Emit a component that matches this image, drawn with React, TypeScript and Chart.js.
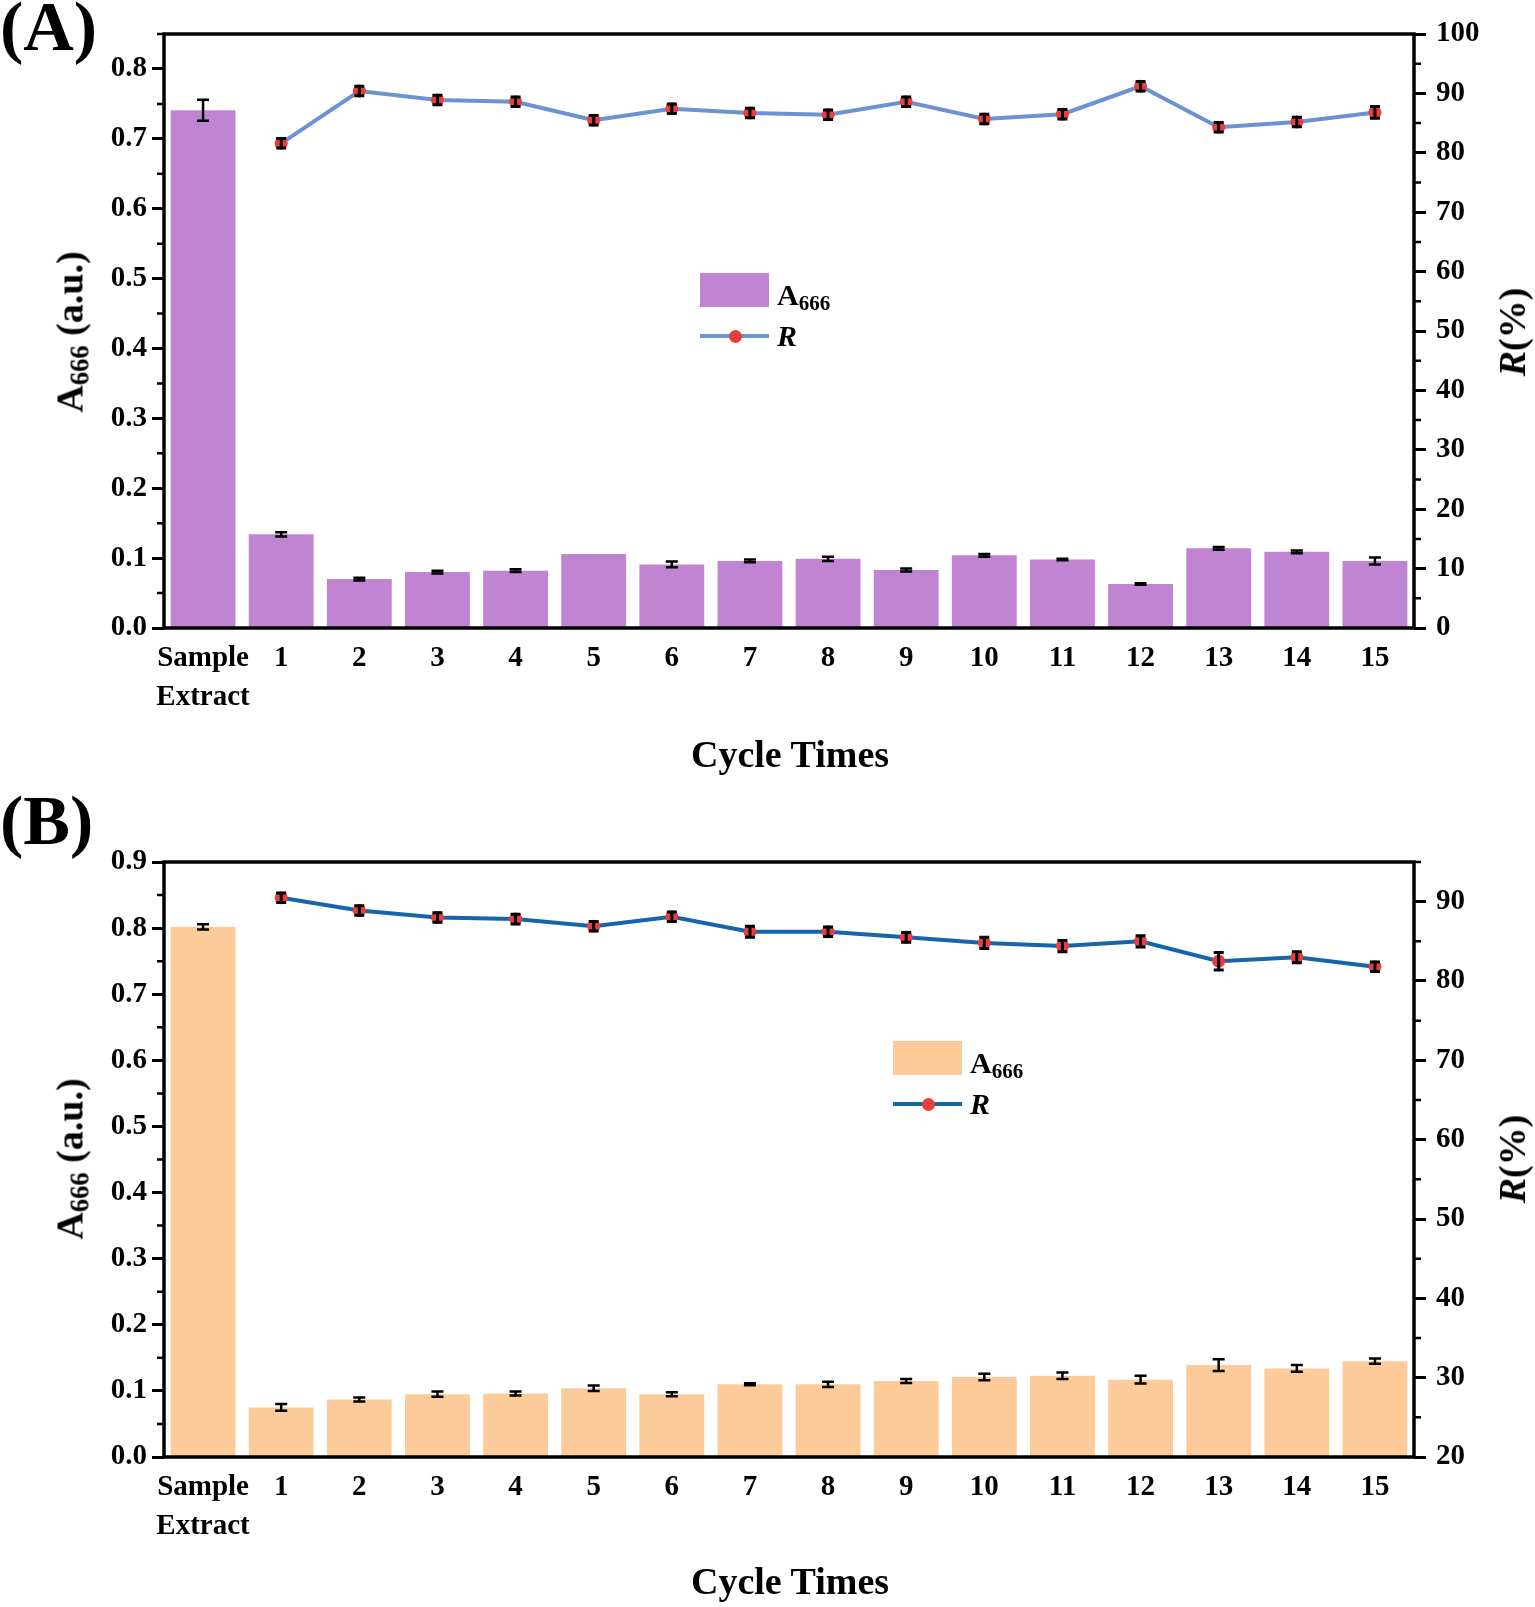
import { useEffect, useRef } from 'react';
import { Chart, registerables } from 'chart.js';

Chart.register(...registerables);

const FONT = '"Liberation Serif", "Times New Roman", serif';

const categories = [['Sample', 'Extract'], '1', '2', '3', '4', '5', '6', '7', '8', '9', '10', '11', '12', '13', '14', '15'];

// panel (A)
const absA = [0.741, 0.134, 0.07, 0.08, 0.082, 0.106, 0.091, 0.096, 0.099, 0.083, 0.104, 0.098, 0.063, 0.114, 0.109, 0.096];
const absErrA = [0.015, 0.003, 0.002, 0.002, 0.002, 0, 0.004, 0.002, 0.003, 0.002, 0.002, 0.001, 0.001, 0.002, 0.002, 0.005];
const recA = [null, 81.6, 90.4, 88.9, 88.6, 85.5, 87.4, 86.7, 86.4, 88.6, 85.7, 86.5, 91.2, 84.3, 85.2, 86.8];
const recErrA = [0, 0.8, 0.8, 0.8, 0.8, 0.8, 0.8, 0.8, 0.8, 0.8, 0.8, 0.8, 0.8, 0.8, 0.8, 1.0];
const leftTicksA = [0, 0.1, 0.2, 0.3, 0.4, 0.5, 0.6, 0.7, 0.8];
const rightTicksA = [0, 10, 20, 30, 40, 50, 60, 70, 80, 90, 100];

// panel (B)
const absB = [0.802, 0.075, 0.087, 0.095, 0.096, 0.104, 0.095, 0.11, 0.11, 0.115, 0.121, 0.123, 0.117, 0.139, 0.134, 0.145];
const absErrB = [0.004, 0.005, 0.003, 0.004, 0.003, 0.004, 0.003, 0.0015, 0.004, 0.003, 0.005, 0.005, 0.006, 0.009, 0.005, 0.004];
const recB = [null, 90.5, 88.9, 88.0, 87.8, 86.9, 88.1, 86.2, 86.2, 85.5, 84.8, 84.4, 85.0, 82.5, 83.0, 81.8];
const recErrB = [0, 0.6, 0.6, 0.6, 0.6, 0.6, 0.6, 0.7, 0.6, 0.6, 0.7, 0.7, 0.7, 1.1, 0.7, 0.6];
const leftTicksB = [0, 0.1, 0.2, 0.3, 0.4, 0.5, 0.6, 0.7, 0.8, 0.9];
const rightTicksB = [20, 30, 40, 50, 60, 70, 80, 90];

// error bars, frame and minor ticks
const decorPlugin = {
  id: 'decor',
  afterDatasetsDraw(chart: any) {
    const ctx = chart.ctx;
    chart.data.datasets.forEach((ds: any, i: number) => {
      if (!ds.errors) return;
      const meta = chart.getDatasetMeta(i);
      const scale = chart.scales[meta.yAxisID];
      ctx.save();
      ctx.strokeStyle = '#000';
      ctx.lineWidth = ds.errorWidth;
      meta.data.forEach((el: any, j: number) => {
        const v = ds.data[j];
        const e = ds.errors[j];
        if (v == null || !e) return;
        const yt = scale.getPixelForValue(v + e);
        const yb = scale.getPixelForValue(v - e);
        const hw = ds.capHalf;
        ctx.beginPath();
        ctx.moveTo(el.x, yt);
        ctx.lineTo(el.x, yb);
        ctx.moveTo(el.x - hw, yt);
        ctx.lineTo(el.x + hw, yt);
        ctx.moveTo(el.x - hw, yb);
        ctx.lineTo(el.x + hw, yb);
        ctx.stroke();
      });
      ctx.restore();
    });
  },
  afterDraw(chart: any) {
    const ctx = chart.ctx;
    const { left, right, top, bottom } = chart.chartArea;
    ctx.save();
    ctx.strokeStyle = '#000';
    ctx.lineWidth = 3.5;
    ctx.strokeRect(left, top, right - left, bottom - top);
    ctx.lineWidth = 2.5;
    ['y', 'y1'].forEach((id) => {
      const s = chart.scales[id];
      const vals = s.ticks.map((t: any) => t.value);
      const step = vals[1] - vals[0];
      ctx.beginPath();
      vals.forEach((v: number) => {
        const m = v + step / 2;
        if (m > s.max + 1e-9) return;
        const y = s.getPixelForValue(m);
        if (s.position === 'left') {
          ctx.moveTo(left, y);
          ctx.lineTo(left - 7, y);
        } else {
          ctx.moveTo(right, y);
          ctx.lineTo(right + 7, y);
        }
      });
      ctx.stroke();
    });
    ctx.restore();
  },
};

interface PanelProps {
  abs: number[];
  absErr: number[];
  rec: (number | null)[];
  recErr: number[];
  leftTicks: number[];
  rightTicks: number[];
  leftMax: number;
  rightMin: number;
  rightMax: number;
  barColor: string;
  lineColor: string;
  top: number;
  height: number;
  padTop: number;
  xAxisHeight: number;
}

const tickFont = { family: FONT, size: 29, weight: 'bold' as const };

function Panel(p: PanelProps) {
  const ref = useRef<HTMLCanvasElement>(null);

  useEffect(() => {
    if (!ref.current) return;
    const yGrid = {
      display: true,
      drawOnChartArea: false,
      drawTicks: true,
      tickLength: 12,
      tickWidth: 3,
      tickColor: '#000',
      color: '#000',
    };
    const chart = new Chart(ref.current, {
      data: {
        labels: categories,
        datasets: [
          {
            type: 'line',
            data: p.rec,
            errors: p.recErr,
            capHalf: 5,
            errorWidth: 3,
            yAxisID: 'y1',
            order: 1,
            borderColor: p.lineColor,
            borderWidth: 4,
            pointRadius: 6.5,
            pointHoverRadius: 6.5,
            pointBackgroundColor: '#EB3D3D',
            pointBorderWidth: 0,
            tension: 0,
          },
          {
            type: 'bar',
            data: p.abs,
            errors: p.absErr,
            capHalf: 6,
            errorWidth: 2.5,
            yAxisID: 'y',
            order: 2,
            backgroundColor: p.barColor,
            borderWidth: 0,
            barPercentage: 0.83,
            categoryPercentage: 1,
          },
        ],
      } as any,
      options: {
        responsive: false,
        animation: false,
        events: [],
        layout: { padding: { top: p.padTop, left: 0, right: 0, bottom: 0 } },
        plugins: { legend: { display: false }, tooltip: { enabled: false } },
        scales: {
          x: {
            type: 'category',
            offset: true,
            grid: { display: false },
            border: { display: false },
            ticks: {
              color: '#000',
              font: { ...tickFont, lineHeight: 1.34 },
              padding: 3,
              autoSkip: false,
              maxRotation: 0,
              minRotation: 0,
            },
            afterFit: (s: any) => {
              s.height = p.xAxisHeight;
            },
          },
          y: {
            position: 'left',
            min: 0,
            max: p.leftMax,
            grid: yGrid,
            border: { display: false },
            ticks: {
              color: '#000',
              font: tickFont,
              padding: 5,
              callback: (v: any) => Number(v).toFixed(1),
            },
            afterBuildTicks: (s: any) => {
              s.ticks = p.leftTicks.map((v) => ({ value: v }));
            },
            afterFit: (s: any) => {
              s.width = 164;
            },
          },
          y1: {
            position: 'right',
            min: p.rightMin,
            max: p.rightMax,
            grid: yGrid,
            border: { display: false },
            ticks: {
              color: '#000',
              font: tickFont,
              padding: 10,
              callback: (v: any) => String(v),
            },
            afterBuildTicks: (s: any) => {
              s.ticks = p.rightTicks.map((v) => ({ value: v }));
            },
            afterFit: (s: any) => {
              s.width = 121;
            },
          },
        },
      } as any,
      plugins: [decorPlugin],
    });
    return () => chart.destroy();
  }, []);

  return (
    <canvas
      ref={ref}
      width={1535}
      height={p.height}
      style={{ position: 'absolute', left: 0, top: p.top, display: 'block' }}
    />
  );
}

function Text({ x, y, size, children, rotate, center }: any) {
  return (
    <div
      style={{
        position: 'absolute',
        left: x,
        top: y,
        fontFamily: FONT,
        fontWeight: 'bold',
        fontSize: size,
        lineHeight: 1,
        whiteSpace: 'nowrap',
        color: '#000',
        transform: rotate
          ? 'translate(-50%, -50%) rotate(-90deg)'
          : center
          ? 'translate(-50%, -50%)'
          : undefined,
      }}
    >
      {children}
    </div>
  );
}

const sub = { fontSize: '0.7em', verticalAlign: '-0.24em' };

function Legend({ x, y, barColor, lineColor }: any) {
  return (
    <>
      <div style={{ position: 'absolute', left: x, top: y, width: 69, height: 34, background: barColor }} />
      <Text x={x + 77} y={y + 7} size={30}>
        A<span style={sub}>666</span>
      </Text>
      <div style={{ position: 'absolute', left: x, top: y + 61, width: 69, height: 4, background: lineColor }} />
      <div
        style={{
          position: 'absolute',
          left: x + 35 - 6.5,
          top: y + 63 - 6.5,
          width: 13,
          height: 13,
          borderRadius: '50%',
          background: '#EB3D3D',
        }}
      />
      <Text x={x + 77} y={y + 48} size={30}>
        <i>R</i>
      </Text>
    </>
  );
}

export default function App() {
  useEffect(() => {
    document.body.style.margin = '0';
  }, []);

  return (
    <div style={{ position: 'relative', width: 1535, height: 1607, background: '#fff', overflow: 'hidden' }}>
      <Panel
        abs={absA}
        absErr={absErrA}
        rec={recA}
        recErr={recErrA}
        leftTicks={leftTicksA}
        rightTicks={rightTicksA}
        leftMax={0.85}
        rightMin={0}
        rightMax={100}
        barColor="#C084D2"
        lineColor="#6B92D2"
        top={0}
        height={790}
        padTop={34}
        xAxisHeight={162}
      />
      <Panel
        abs={absB}
        absErr={absErrB}
        rec={recB}
        recErr={recErrB}
        leftTicks={leftTicksB}
        rightTicks={rightTicksB}
        leftMax={0.9}
        rightMin={20}
        rightMax={95}
        barColor="#FCCB99"
        lineColor="#1664AA"
        top={790}
        height={817}
        padTop={72}
        xAxisHeight={150}
      />

      <Text x={0} y={-8} size={70}>(A)</Text>
      <Text x={0} y={786} size={70}>(B)</Text>

      <Text x={72} y={332} size={38} rotate>
        A<span style={sub}>666</span> (a.u.)
      </Text>
      <Text x={1512} y={332} size={38} rotate>
        <i>R</i>(%)
      </Text>
      <Text x={790} y={754} size={38} center>Cycle Times</Text>

      <Text x={72} y={1159} size={38} rotate>
        A<span style={sub}>666</span> (a.u.)
      </Text>
      <Text x={1512} y={1159} size={38} rotate>
        <i>R</i>(%)
      </Text>
      <Text x={790} y={1581} size={38} center>Cycle Times</Text>

      <Legend x={700} y={273} barColor="#C084D2" lineColor="#6B92D2" />
      <Legend x={893} y={1041} barColor="#FCCB99" lineColor="#1664AA" />
    </div>
  );
}
